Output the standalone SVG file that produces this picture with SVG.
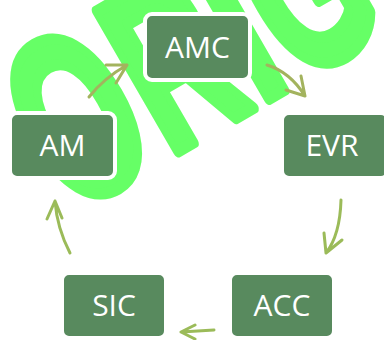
<svg xmlns="http://www.w3.org/2000/svg" width="384" height="340" viewBox="0 0 384 340">
<style>
.wm{font-family:"Liberation Sans",Arial,sans-serif;font-weight:bold;fill:#66ff66;stroke:#66ff66;stroke-width:10;stroke-linejoin:round;vector-effect:non-scaling-stroke}
.box{fill:#588a5e;stroke:#ffffff;stroke-width:4}
.lbl{font-family:"Open Sans","Noto Sans",sans-serif;font-size:30px;fill:#ffffff;text-anchor:middle}
.a1{fill:none;stroke:#a3b35e;stroke-width:3;stroke-linecap:round;stroke-linejoin:round}
.a2{fill:none;stroke:#9bbb59;stroke-width:3;stroke-linecap:round;stroke-linejoin:round}
</style>
<rect width="384" height="340" fill="#ffffff"/>
<g id="watermark">
<text class="wm" font-size="235" transform="translate(128,186) rotate(-30) scale(0.6,1)" x="-108 83 258 329" y="-5" vector-effect="non-scaling-stroke">ORIG</text>
</g>
<g id="connectors">
<path class="a1" d="M89,97 Q104,78 127,65 M106,65 L127,65 L116,83"/>
<path class="a1" d="M267,65 Q290,72 305,96 M301,76 L305,96 L286,90"/>
<path class="a2" d="M341,200 Q340,235 326,253 M324,233 L326,253 L342,240"/>
<path class="a2" d="M214,330 Q198,331 181,332 M195,325 L181,332 L195,339"/>
<path class="a2" d="M70,253 Q57,228 55,201 M47,219 L55,201 L62,218"/>
</g>
<g id="AMC"><rect class="box" x="145" y="14" width="105" height="66" rx="7"/><text class="lbl" x="197.5" y="58">AMC</text></g>
<g id="AM"><rect class="box" x="10" y="113" width="105" height="65" rx="7"/><text class="lbl" x="62.5" y="156">AM</text></g>
<g id="EVR"><rect class="box" x="282" y="113" width="106" height="65" rx="7"/><text class="lbl" x="332" y="156">EVR</text></g>
<g id="SIC"><rect class="box" x="62" y="273" width="104" height="65" rx="7"/><text class="lbl" x="114" y="316">SIC</text></g>
<g id="ACC"><rect class="box" x="230" y="273" width="104" height="65" rx="7"/><text class="lbl" x="282" y="316">ACC</text></g>
</svg>
